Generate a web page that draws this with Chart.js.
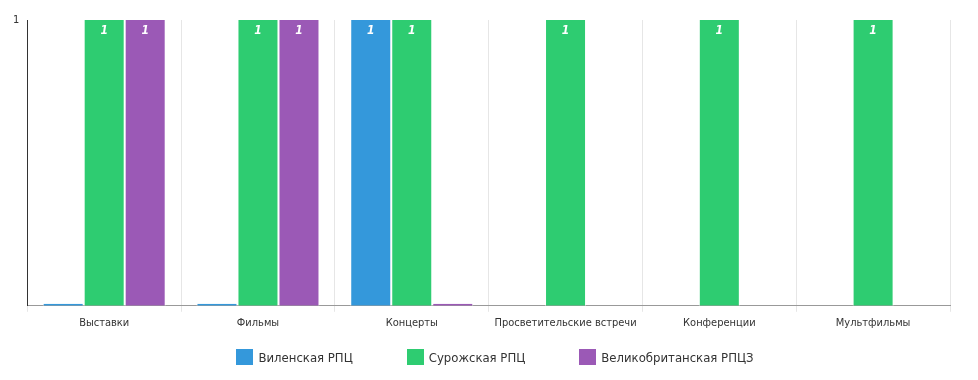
<!DOCTYPE html>
<html><head><meta charset="utf-8">
<script src="https://cdn.jsdelivr.net/npm/chart.js@4/dist/chart.umd.min.js"></script>
<style>
html,body{margin:0;padding:0;background:#fff}
#wrap{position:relative;width:978px;height:380px}
#cw{position:absolute;left:0;top:0;width:978px;height:380px}
#legend{position:absolute;left:6px;top:348px;width:978px;height:18px;display:flex;justify-content:center;align-items:center;font-family:'Liberation Sans Narrow','DejaVu Sans Condensed',sans-serif;font-size:13px;color:#333}
.item{display:flex;align-items:center;margin:0 27px}
.box{width:17px;height:16px;margin-right:5px}
</style>
</head><body><div id="wrap"><div id="cw"><canvas id="c"></canvas></div><div id="legend"></div></div>
<script>
const categories = ['Выставки','Фильмы','Концерты','Просветительские встречи','Конференции','Мультфильмы'];
const vilenskaya = [0, 0, 1, null, null, null];
const surozhskaya = [1, 1, 1, 1, 1, 1];
const velikobritanskaya = [1, 1, 0, null, null, null];
const seriesNames = ['Виленская РПЦ','Сурожская РПЦ','Великобританская РПЦЗ'];
const seriesColors = ['#3498db','#2ecc71','#9b59b6'];
const yTicks = [0, 1];

const FONT = "'Liberation Sans Narrow','DejaVu Sans Condensed','Noto Sans',sans-serif";

const labelPlugin = {
  id: 'vlabels',
  afterDatasetsDraw(chart) {
    const ctx = chart.ctx;
    ctx.save();
    ctx.font = "italic bold 12px " + FONT;
    ctx.fillStyle = '#fff';
    ctx.textAlign = 'center';
    ctx.textBaseline = 'top';
    chart.data.datasets.forEach((ds, i) => {
      chart.getDatasetMeta(i).data.forEach((bar, j) => {
        const v = ds.data[j];
        if (v) ctx.fillText(String(v), bar.x, bar.y + 5);
      });
    });
    ctx.restore();
  }
};

const seriesData = [vilenskaya, surozhskaya, velikobritanskaya];
const chart = new Chart(document.getElementById('c'), {
  type: 'bar',
  data: {
    labels: categories,
    datasets: seriesData.map((d, i) => ({
      label: seriesNames[i], data: d, backgroundColor: seriesColors[i],
      borderColor: '#fff', borderWidth: {left:1,right:1,top:0,bottom:0}, minBarLength: 2
    }))
  },
  options: {
    responsive: true, maintainAspectRatio: false, animation: false,
    layout: {padding: {top: 20, right: 28, left: 10, bottom: 45}},
    categoryPercentage: 0.8, barPercentage: 1.0,
    plugins: {
      legend: {display: false},
      tooltip: {enabled: false}
    },
    scales: {
      x: {
        grid: {display: true, color: '#e6e6e6', offset: true, tickLength: 6, drawTicks: true},
        border: {color: '#999'},
        ticks: {color: '#333', font: {family: FONT, size: 11}, padding: 5, maxRotation: 0}
      },
      y: {
        min: 0, max: 1,
        grid: {display: false, drawTicks: true, tickLength: 5},
        border: {color: '#333', width: 1},
        afterBuildTicks(s) { s.ticks = yTicks.map(v => ({value: v})); },
        ticks: {color: '#333', font: {family: FONT, size: 11}, padding: 3, callback: v => v === 0 ? '' : String(v)}
      }
    }
  },
  plugins: [labelPlugin]
});

const lg = document.getElementById('legend');
seriesNames.forEach((n, i) => {
  const it = document.createElement('div'); it.className = 'item';
  const b = document.createElement('div'); b.className = 'box'; b.style.background = seriesColors[i];
  const t = document.createElement('span'); t.textContent = n;
  it.appendChild(b); it.appendChild(t); lg.appendChild(it);
});
</script></body></html>
